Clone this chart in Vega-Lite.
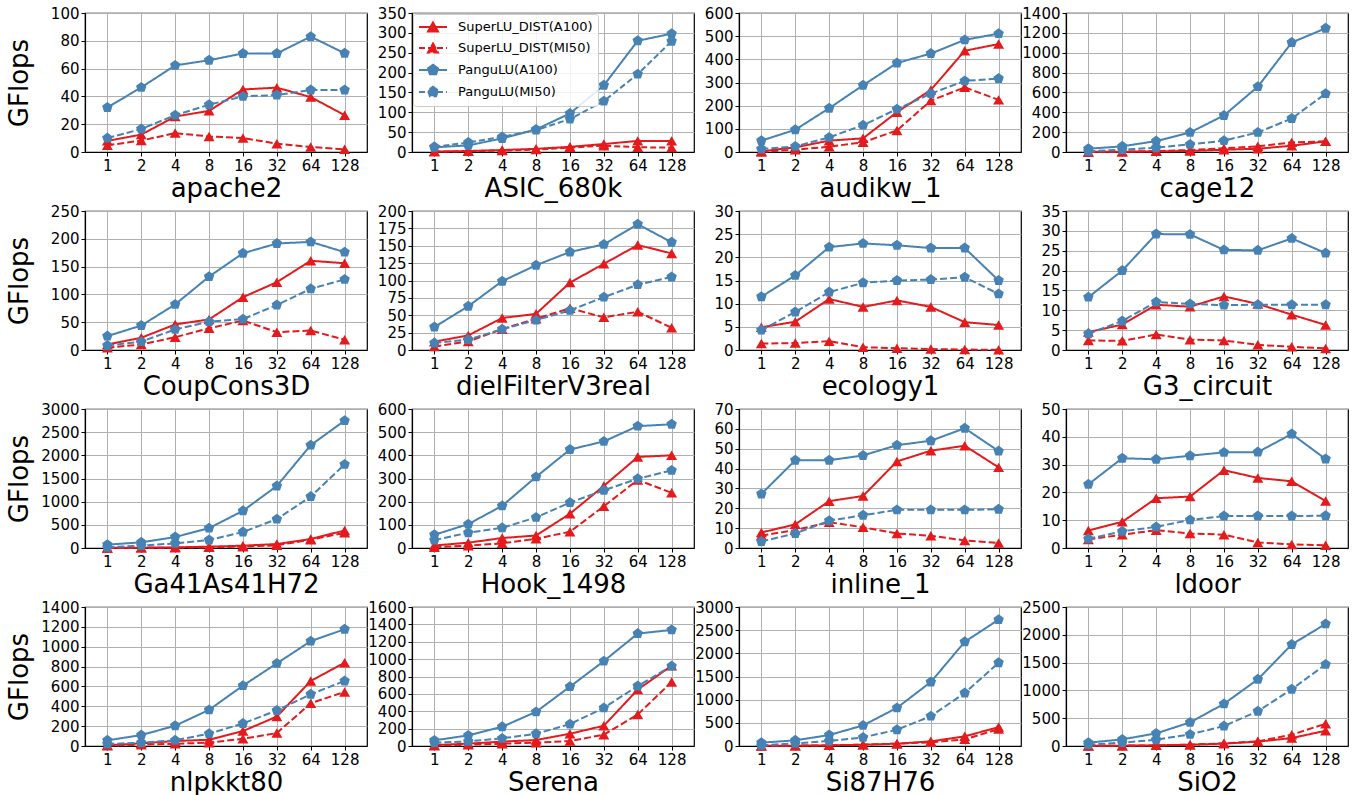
{
"$schema":"https://vega.github.io/schema/vega-lite/v6.json",
"background":"white",
"padding":{"left":5,"top":5,"right":5,"bottom":0},
"data":{"name":"d"},
"datasets":{"d":[
{"m":"apache2","s":"SuperLU_DIST(A100)","x":1,"y":8},{"m":"apache2","s":"SuperLU_DIST(A100)","x":2,"y":12.5},{"m":"apache2","s":"SuperLU_DIST(A100)","x":4,"y":25.5},{"m":"apache2","s":"SuperLU_DIST(A100)","x":8,"y":29.6},{"m":"apache2","s":"SuperLU_DIST(A100)","x":16,"y":45},{"m":"apache2","s":"SuperLU_DIST(A100)","x":32,"y":46.3},{"m":"apache2","s":"SuperLU_DIST(A100)","x":64,"y":39.5},{"m":"apache2","s":"SuperLU_DIST(A100)","x":128,"y":26.5},
{"m":"apache2","s":"SuperLU_DIST(MI50)","x":1,"y":4.8},{"m":"apache2","s":"SuperLU_DIST(MI50)","x":2,"y":8.2},{"m":"apache2","s":"SuperLU_DIST(MI50)","x":4,"y":13.6},{"m":"apache2","s":"SuperLU_DIST(MI50)","x":8,"y":11.2},{"m":"apache2","s":"SuperLU_DIST(MI50)","x":16,"y":10},{"m":"apache2","s":"SuperLU_DIST(MI50)","x":32,"y":6},{"m":"apache2","s":"SuperLU_DIST(MI50)","x":64,"y":3.6},{"m":"apache2","s":"SuperLU_DIST(MI50)","x":128,"y":1.9},
{"m":"apache2","s":"PanguLU(A100)","x":1,"y":32},{"m":"apache2","s":"PanguLU(A100)","x":2,"y":46.5},{"m":"apache2","s":"PanguLU(A100)","x":4,"y":62.3},{"m":"apache2","s":"PanguLU(A100)","x":8,"y":66},{"m":"apache2","s":"PanguLU(A100)","x":16,"y":70.9},{"m":"apache2","s":"PanguLU(A100)","x":32,"y":70.9},{"m":"apache2","s":"PanguLU(A100)","x":64,"y":83},{"m":"apache2","s":"PanguLU(A100)","x":128,"y":71},
{"m":"apache2","s":"PanguLU(MI50)","x":1,"y":10},{"m":"apache2","s":"PanguLU(MI50)","x":2,"y":16.5},{"m":"apache2","s":"PanguLU(MI50)","x":4,"y":26.5},{"m":"apache2","s":"PanguLU(MI50)","x":8,"y":34},{"m":"apache2","s":"PanguLU(MI50)","x":16,"y":40},{"m":"apache2","s":"PanguLU(MI50)","x":32,"y":41},{"m":"apache2","s":"PanguLU(MI50)","x":64,"y":44.6},{"m":"apache2","s":"PanguLU(MI50)","x":128,"y":44.6},
{"m":"ASIC_680k","s":"SuperLU_DIST(A100)","x":1,"y":1},{"m":"ASIC_680k","s":"SuperLU_DIST(A100)","x":2,"y":2.5},{"m":"ASIC_680k","s":"SuperLU_DIST(A100)","x":4,"y":5},{"m":"ASIC_680k","s":"SuperLU_DIST(A100)","x":8,"y":8},{"m":"ASIC_680k","s":"SuperLU_DIST(A100)","x":16,"y":13},{"m":"ASIC_680k","s":"SuperLU_DIST(A100)","x":32,"y":20},{"m":"ASIC_680k","s":"SuperLU_DIST(A100)","x":64,"y":28},{"m":"ASIC_680k","s":"SuperLU_DIST(A100)","x":128,"y":28},
{"m":"ASIC_680k","s":"SuperLU_DIST(MI50)","x":1,"y":1},{"m":"ASIC_680k","s":"SuperLU_DIST(MI50)","x":2,"y":2},{"m":"ASIC_680k","s":"SuperLU_DIST(MI50)","x":4,"y":3.5},{"m":"ASIC_680k","s":"SuperLU_DIST(MI50)","x":8,"y":6},{"m":"ASIC_680k","s":"SuperLU_DIST(MI50)","x":16,"y":11},{"m":"ASIC_680k","s":"SuperLU_DIST(MI50)","x":32,"y":16},{"m":"ASIC_680k","s":"SuperLU_DIST(MI50)","x":64,"y":12},{"m":"ASIC_680k","s":"SuperLU_DIST(MI50)","x":128,"y":11},
{"m":"ASIC_680k","s":"PanguLU(A100)","x":1,"y":11.7},{"m":"ASIC_680k","s":"PanguLU(A100)","x":2,"y":16.7},{"m":"ASIC_680k","s":"PanguLU(A100)","x":4,"y":34},{"m":"ASIC_680k","s":"PanguLU(A100)","x":8,"y":57},{"m":"ASIC_680k","s":"PanguLU(A100)","x":16,"y":97},{"m":"ASIC_680k","s":"PanguLU(A100)","x":32,"y":168},{"m":"ASIC_680k","s":"PanguLU(A100)","x":64,"y":280},{"m":"ASIC_680k","s":"PanguLU(A100)","x":128,"y":298},
{"m":"ASIC_680k","s":"PanguLU(MI50)","x":1,"y":13},{"m":"ASIC_680k","s":"PanguLU(MI50)","x":2,"y":24},{"m":"ASIC_680k","s":"PanguLU(MI50)","x":4,"y":38},{"m":"ASIC_680k","s":"PanguLU(MI50)","x":8,"y":55},{"m":"ASIC_680k","s":"PanguLU(MI50)","x":16,"y":83},{"m":"ASIC_680k","s":"PanguLU(MI50)","x":32,"y":128},{"m":"ASIC_680k","s":"PanguLU(MI50)","x":64,"y":196},{"m":"ASIC_680k","s":"PanguLU(MI50)","x":128,"y":279},
{"m":"audikw_1","s":"SuperLU_DIST(A100)","x":1,"y":3},{"m":"audikw_1","s":"SuperLU_DIST(A100)","x":2,"y":20},{"m":"audikw_1","s":"SuperLU_DIST(A100)","x":4,"y":49},{"m":"audikw_1","s":"SuperLU_DIST(A100)","x":8,"y":59},{"m":"audikw_1","s":"SuperLU_DIST(A100)","x":16,"y":172},{"m":"audikw_1","s":"SuperLU_DIST(A100)","x":32,"y":268},{"m":"audikw_1","s":"SuperLU_DIST(A100)","x":64,"y":437},{"m":"audikw_1","s":"SuperLU_DIST(A100)","x":128,"y":466},
{"m":"audikw_1","s":"SuperLU_DIST(MI50)","x":1,"y":0.5},{"m":"audikw_1","s":"SuperLU_DIST(MI50)","x":2,"y":10},{"m":"audikw_1","s":"SuperLU_DIST(MI50)","x":4,"y":23},{"m":"audikw_1","s":"SuperLU_DIST(MI50)","x":8,"y":42},{"m":"audikw_1","s":"SuperLU_DIST(MI50)","x":16,"y":93},{"m":"audikw_1","s":"SuperLU_DIST(MI50)","x":32,"y":222},{"m":"audikw_1","s":"SuperLU_DIST(MI50)","x":64,"y":279},{"m":"audikw_1","s":"SuperLU_DIST(MI50)","x":128,"y":225},
{"m":"audikw_1","s":"PanguLU(A100)","x":1,"y":49},{"m":"audikw_1","s":"PanguLU(A100)","x":2,"y":96},{"m":"audikw_1","s":"PanguLU(A100)","x":4,"y":189},{"m":"audikw_1","s":"PanguLU(A100)","x":8,"y":288},{"m":"audikw_1","s":"PanguLU(A100)","x":16,"y":384},{"m":"audikw_1","s":"PanguLU(A100)","x":32,"y":425},{"m":"audikw_1","s":"PanguLU(A100)","x":64,"y":484},{"m":"audikw_1","s":"PanguLU(A100)","x":128,"y":511},
{"m":"audikw_1","s":"PanguLU(MI50)","x":1,"y":13},{"m":"audikw_1","s":"PanguLU(MI50)","x":2,"y":24},{"m":"audikw_1","s":"PanguLU(MI50)","x":4,"y":63},{"m":"audikw_1","s":"PanguLU(MI50)","x":8,"y":116},{"m":"audikw_1","s":"PanguLU(MI50)","x":16,"y":185},{"m":"audikw_1","s":"PanguLU(MI50)","x":32,"y":252},{"m":"audikw_1","s":"PanguLU(MI50)","x":64,"y":307},{"m":"audikw_1","s":"PanguLU(MI50)","x":128,"y":317},
{"m":"cage12","s":"SuperLU_DIST(A100)","x":1,"y":1},{"m":"cage12","s":"SuperLU_DIST(A100)","x":2,"y":3},{"m":"cage12","s":"SuperLU_DIST(A100)","x":4,"y":7},{"m":"cage12","s":"SuperLU_DIST(A100)","x":8,"y":10},{"m":"cage12","s":"SuperLU_DIST(A100)","x":16,"y":23},{"m":"cage12","s":"SuperLU_DIST(A100)","x":32,"y":33},{"m":"cage12","s":"SuperLU_DIST(A100)","x":64,"y":63},{"m":"cage12","s":"SuperLU_DIST(A100)","x":128,"y":107},
{"m":"cage12","s":"SuperLU_DIST(MI50)","x":1,"y":1},{"m":"cage12","s":"SuperLU_DIST(MI50)","x":2,"y":3},{"m":"cage12","s":"SuperLU_DIST(MI50)","x":4,"y":10},{"m":"cage12","s":"SuperLU_DIST(MI50)","x":8,"y":20},{"m":"cage12","s":"SuperLU_DIST(MI50)","x":16,"y":37},{"m":"cage12","s":"SuperLU_DIST(MI50)","x":32,"y":57},{"m":"cage12","s":"SuperLU_DIST(MI50)","x":64,"y":97},{"m":"cage12","s":"SuperLU_DIST(MI50)","x":128,"y":107},
{"m":"cage12","s":"PanguLU(A100)","x":1,"y":33},{"m":"cage12","s":"PanguLU(A100)","x":2,"y":57},{"m":"cage12","s":"PanguLU(A100)","x":4,"y":110},{"m":"cage12","s":"PanguLU(A100)","x":8,"y":197},{"m":"cage12","s":"PanguLU(A100)","x":16,"y":368},{"m":"cage12","s":"PanguLU(A100)","x":32,"y":658},{"m":"cage12","s":"PanguLU(A100)","x":64,"y":1103},{"m":"cage12","s":"PanguLU(A100)","x":128,"y":1246},
{"m":"cage12","s":"PanguLU(MI50)","x":1,"y":7},{"m":"cage12","s":"PanguLU(MI50)","x":2,"y":23},{"m":"cage12","s":"PanguLU(MI50)","x":4,"y":43},{"m":"cage12","s":"PanguLU(MI50)","x":8,"y":77},{"m":"cage12","s":"PanguLU(MI50)","x":16,"y":114},{"m":"cage12","s":"PanguLU(MI50)","x":32,"y":197},{"m":"cage12","s":"PanguLU(MI50)","x":64,"y":337},{"m":"cage12","s":"PanguLU(MI50)","x":128,"y":588},
{"m":"CoupCons3D","s":"SuperLU_DIST(A100)","x":1,"y":10},{"m":"CoupCons3D","s":"SuperLU_DIST(A100)","x":2,"y":22},{"m":"CoupCons3D","s":"SuperLU_DIST(A100)","x":4,"y":46},{"m":"CoupCons3D","s":"SuperLU_DIST(A100)","x":8,"y":55},{"m":"CoupCons3D","s":"SuperLU_DIST(A100)","x":16,"y":95},{"m":"CoupCons3D","s":"SuperLU_DIST(A100)","x":32,"y":122},{"m":"CoupCons3D","s":"SuperLU_DIST(A100)","x":64,"y":160.5},{"m":"CoupCons3D","s":"SuperLU_DIST(A100)","x":128,"y":156},
{"m":"CoupCons3D","s":"SuperLU_DIST(MI50)","x":1,"y":4},{"m":"CoupCons3D","s":"SuperLU_DIST(MI50)","x":2,"y":10},{"m":"CoupCons3D","s":"SuperLU_DIST(MI50)","x":4,"y":23},{"m":"CoupCons3D","s":"SuperLU_DIST(MI50)","x":8,"y":39},{"m":"CoupCons3D","s":"SuperLU_DIST(MI50)","x":16,"y":53},{"m":"CoupCons3D","s":"SuperLU_DIST(MI50)","x":32,"y":32},{"m":"CoupCons3D","s":"SuperLU_DIST(MI50)","x":64,"y":35},{"m":"CoupCons3D","s":"SuperLU_DIST(MI50)","x":128,"y":18.5},
{"m":"CoupCons3D","s":"PanguLU(A100)","x":1,"y":25},{"m":"CoupCons3D","s":"PanguLU(A100)","x":2,"y":44},{"m":"CoupCons3D","s":"PanguLU(A100)","x":4,"y":82},{"m":"CoupCons3D","s":"PanguLU(A100)","x":8,"y":132},{"m":"CoupCons3D","s":"PanguLU(A100)","x":16,"y":174},{"m":"CoupCons3D","s":"PanguLU(A100)","x":32,"y":191.5},{"m":"CoupCons3D","s":"PanguLU(A100)","x":64,"y":194.5},{"m":"CoupCons3D","s":"PanguLU(A100)","x":128,"y":176},
{"m":"CoupCons3D","s":"PanguLU(MI50)","x":1,"y":8},{"m":"CoupCons3D","s":"PanguLU(MI50)","x":2,"y":15},{"m":"CoupCons3D","s":"PanguLU(MI50)","x":4,"y":37},{"m":"CoupCons3D","s":"PanguLU(MI50)","x":8,"y":51},{"m":"CoupCons3D","s":"PanguLU(MI50)","x":16,"y":55.5},{"m":"CoupCons3D","s":"PanguLU(MI50)","x":32,"y":81},{"m":"CoupCons3D","s":"PanguLU(MI50)","x":64,"y":110},{"m":"CoupCons3D","s":"PanguLU(MI50)","x":128,"y":127},
{"m":"dielFilterV3real","s":"SuperLU_DIST(A100)","x":1,"y":12},{"m":"dielFilterV3real","s":"SuperLU_DIST(A100)","x":2,"y":21},{"m":"dielFilterV3real","s":"SuperLU_DIST(A100)","x":4,"y":46},{"m":"dielFilterV3real","s":"SuperLU_DIST(A100)","x":8,"y":52},{"m":"dielFilterV3real","s":"SuperLU_DIST(A100)","x":16,"y":97},{"m":"dielFilterV3real","s":"SuperLU_DIST(A100)","x":32,"y":124},{"m":"dielFilterV3real","s":"SuperLU_DIST(A100)","x":64,"y":151},{"m":"dielFilterV3real","s":"SuperLU_DIST(A100)","x":128,"y":139},
{"m":"dielFilterV3real","s":"SuperLU_DIST(MI50)","x":1,"y":5},{"m":"dielFilterV3real","s":"SuperLU_DIST(MI50)","x":2,"y":12.4},{"m":"dielFilterV3real","s":"SuperLU_DIST(MI50)","x":4,"y":30},{"m":"dielFilterV3real","s":"SuperLU_DIST(MI50)","x":8,"y":45},{"m":"dielFilterV3real","s":"SuperLU_DIST(MI50)","x":16,"y":60},{"m":"dielFilterV3real","s":"SuperLU_DIST(MI50)","x":32,"y":47},{"m":"dielFilterV3real","s":"SuperLU_DIST(MI50)","x":64,"y":55},{"m":"dielFilterV3real","s":"SuperLU_DIST(MI50)","x":128,"y":32},
{"m":"dielFilterV3real","s":"PanguLU(A100)","x":1,"y":33},{"m":"dielFilterV3real","s":"PanguLU(A100)","x":2,"y":63},{"m":"dielFilterV3real","s":"PanguLU(A100)","x":4,"y":99},{"m":"dielFilterV3real","s":"PanguLU(A100)","x":8,"y":122},{"m":"dielFilterV3real","s":"PanguLU(A100)","x":16,"y":141},{"m":"dielFilterV3real","s":"PanguLU(A100)","x":32,"y":152},{"m":"dielFilterV3real","s":"PanguLU(A100)","x":64,"y":181},{"m":"dielFilterV3real","s":"PanguLU(A100)","x":128,"y":155},
{"m":"dielFilterV3real","s":"PanguLU(MI50)","x":1,"y":10},{"m":"dielFilterV3real","s":"PanguLU(MI50)","x":2,"y":15},{"m":"dielFilterV3real","s":"PanguLU(MI50)","x":4,"y":30},{"m":"dielFilterV3real","s":"PanguLU(MI50)","x":8,"y":43},{"m":"dielFilterV3real","s":"PanguLU(MI50)","x":16,"y":57},{"m":"dielFilterV3real","s":"PanguLU(MI50)","x":32,"y":76},{"m":"dielFilterV3real","s":"PanguLU(MI50)","x":64,"y":94},{"m":"dielFilterV3real","s":"PanguLU(MI50)","x":128,"y":105},
{"m":"ecology1","s":"SuperLU_DIST(A100)","x":1,"y":4.9},{"m":"ecology1","s":"SuperLU_DIST(A100)","x":2,"y":6.1},{"m":"ecology1","s":"SuperLU_DIST(A100)","x":4,"y":11},{"m":"ecology1","s":"SuperLU_DIST(A100)","x":8,"y":9.3},{"m":"ecology1","s":"SuperLU_DIST(A100)","x":16,"y":10.7},{"m":"ecology1","s":"SuperLU_DIST(A100)","x":32,"y":9.3},{"m":"ecology1","s":"SuperLU_DIST(A100)","x":64,"y":6},{"m":"ecology1","s":"SuperLU_DIST(A100)","x":128,"y":5.4},
{"m":"ecology1","s":"SuperLU_DIST(MI50)","x":1,"y":1.4},{"m":"ecology1","s":"SuperLU_DIST(MI50)","x":2,"y":1.5},{"m":"ecology1","s":"SuperLU_DIST(MI50)","x":4,"y":1.9},{"m":"ecology1","s":"SuperLU_DIST(MI50)","x":8,"y":0.6},{"m":"ecology1","s":"SuperLU_DIST(MI50)","x":16,"y":0.4},{"m":"ecology1","s":"SuperLU_DIST(MI50)","x":32,"y":0.2},{"m":"ecology1","s":"SuperLU_DIST(MI50)","x":64,"y":0.1},{"m":"ecology1","s":"SuperLU_DIST(MI50)","x":128,"y":0.05},
{"m":"ecology1","s":"PanguLU(A100)","x":1,"y":11.5},{"m":"ecology1","s":"PanguLU(A100)","x":2,"y":16.1},{"m":"ecology1","s":"PanguLU(A100)","x":4,"y":22.2},{"m":"ecology1","s":"PanguLU(A100)","x":8,"y":23},{"m":"ecology1","s":"PanguLU(A100)","x":16,"y":22.6},{"m":"ecology1","s":"PanguLU(A100)","x":32,"y":22},{"m":"ecology1","s":"PanguLU(A100)","x":64,"y":22},{"m":"ecology1","s":"PanguLU(A100)","x":128,"y":15},
{"m":"ecology1","s":"PanguLU(MI50)","x":1,"y":4.3},{"m":"ecology1","s":"PanguLU(MI50)","x":2,"y":8.2},{"m":"ecology1","s":"PanguLU(MI50)","x":4,"y":12.5},{"m":"ecology1","s":"PanguLU(MI50)","x":8,"y":14.5},{"m":"ecology1","s":"PanguLU(MI50)","x":16,"y":15},{"m":"ecology1","s":"PanguLU(MI50)","x":32,"y":15.2},{"m":"ecology1","s":"PanguLU(MI50)","x":64,"y":15.7},{"m":"ecology1","s":"PanguLU(MI50)","x":128,"y":12.1},
{"m":"G3_circuit","s":"SuperLU_DIST(A100)","x":1,"y":4.5},{"m":"G3_circuit","s":"SuperLU_DIST(A100)","x":2,"y":6.4},{"m":"G3_circuit","s":"SuperLU_DIST(A100)","x":4,"y":11.4},{"m":"G3_circuit","s":"SuperLU_DIST(A100)","x":8,"y":10.9},{"m":"G3_circuit","s":"SuperLU_DIST(A100)","x":16,"y":13.5},{"m":"G3_circuit","s":"SuperLU_DIST(A100)","x":32,"y":11.6},{"m":"G3_circuit","s":"SuperLU_DIST(A100)","x":64,"y":8.9},{"m":"G3_circuit","s":"SuperLU_DIST(A100)","x":128,"y":6.3},
{"m":"G3_circuit","s":"SuperLU_DIST(MI50)","x":1,"y":2.4},{"m":"G3_circuit","s":"SuperLU_DIST(MI50)","x":2,"y":2.3},{"m":"G3_circuit","s":"SuperLU_DIST(MI50)","x":4,"y":3.9},{"m":"G3_circuit","s":"SuperLU_DIST(MI50)","x":8,"y":2.6},{"m":"G3_circuit","s":"SuperLU_DIST(MI50)","x":16,"y":2.4},{"m":"G3_circuit","s":"SuperLU_DIST(MI50)","x":32,"y":1.3},{"m":"G3_circuit","s":"SuperLU_DIST(MI50)","x":64,"y":0.8},{"m":"G3_circuit","s":"SuperLU_DIST(MI50)","x":128,"y":0.4},
{"m":"G3_circuit","s":"PanguLU(A100)","x":1,"y":13.3},{"m":"G3_circuit","s":"PanguLU(A100)","x":2,"y":20},{"m":"G3_circuit","s":"PanguLU(A100)","x":4,"y":29.2},{"m":"G3_circuit","s":"PanguLU(A100)","x":8,"y":29.1},{"m":"G3_circuit","s":"PanguLU(A100)","x":16,"y":25.2},{"m":"G3_circuit","s":"PanguLU(A100)","x":32,"y":25.1},{"m":"G3_circuit","s":"PanguLU(A100)","x":64,"y":28.1},{"m":"G3_circuit","s":"PanguLU(A100)","x":128,"y":24.4},
{"m":"G3_circuit","s":"PanguLU(MI50)","x":1,"y":4.1},{"m":"G3_circuit","s":"PanguLU(MI50)","x":2,"y":7.3},{"m":"G3_circuit","s":"PanguLU(MI50)","x":4,"y":12.1},{"m":"G3_circuit","s":"PanguLU(MI50)","x":8,"y":11.6},{"m":"G3_circuit","s":"PanguLU(MI50)","x":16,"y":11.3},{"m":"G3_circuit","s":"PanguLU(MI50)","x":32,"y":11.4},{"m":"G3_circuit","s":"PanguLU(MI50)","x":64,"y":11.4},{"m":"G3_circuit","s":"PanguLU(MI50)","x":128,"y":11.4},
{"m":"Ga41As41H72","s":"SuperLU_DIST(A100)","x":1,"y":2},{"m":"Ga41As41H72","s":"SuperLU_DIST(A100)","x":2,"y":7},{"m":"Ga41As41H72","s":"SuperLU_DIST(A100)","x":4,"y":14},{"m":"Ga41As41H72","s":"SuperLU_DIST(A100)","x":8,"y":29},{"m":"Ga41As41H72","s":"SuperLU_DIST(A100)","x":16,"y":50},{"m":"Ga41As41H72","s":"SuperLU_DIST(A100)","x":32,"y":86},{"m":"Ga41As41H72","s":"SuperLU_DIST(A100)","x":64,"y":193},{"m":"Ga41As41H72","s":"SuperLU_DIST(A100)","x":128,"y":379},
{"m":"Ga41As41H72","s":"SuperLU_DIST(MI50)","x":1,"y":1},{"m":"Ga41As41H72","s":"SuperLU_DIST(MI50)","x":2,"y":3},{"m":"Ga41As41H72","s":"SuperLU_DIST(MI50)","x":4,"y":7},{"m":"Ga41As41H72","s":"SuperLU_DIST(MI50)","x":8,"y":14},{"m":"Ga41As41H72","s":"SuperLU_DIST(MI50)","x":16,"y":29},{"m":"Ga41As41H72","s":"SuperLU_DIST(MI50)","x":32,"y":57},{"m":"Ga41As41H72","s":"SuperLU_DIST(MI50)","x":64,"y":179},{"m":"Ga41As41H72","s":"SuperLU_DIST(MI50)","x":128,"y":329},
{"m":"Ga41As41H72","s":"PanguLU(A100)","x":1,"y":72},{"m":"Ga41As41H72","s":"PanguLU(A100)","x":2,"y":122},{"m":"Ga41As41H72","s":"PanguLU(A100)","x":4,"y":236},{"m":"Ga41As41H72","s":"PanguLU(A100)","x":8,"y":429},{"m":"Ga41As41H72","s":"PanguLU(A100)","x":16,"y":802},{"m":"Ga41As41H72","s":"PanguLU(A100)","x":32,"y":1339},{"m":"Ga41As41H72","s":"PanguLU(A100)","x":64,"y":2219},{"m":"Ga41As41H72","s":"PanguLU(A100)","x":128,"y":2749},
{"m":"Ga41As41H72","s":"PanguLU(MI50)","x":1,"y":14},{"m":"Ga41As41H72","s":"PanguLU(MI50)","x":2,"y":50},{"m":"Ga41As41H72","s":"PanguLU(MI50)","x":4,"y":100},{"m":"Ga41As41H72","s":"PanguLU(MI50)","x":8,"y":172},{"m":"Ga41As41H72","s":"PanguLU(MI50)","x":16,"y":344},{"m":"Ga41As41H72","s":"PanguLU(MI50)","x":32,"y":623},{"m":"Ga41As41H72","s":"PanguLU(MI50)","x":64,"y":1110},{"m":"Ga41As41H72","s":"PanguLU(MI50)","x":128,"y":1804},
{"m":"Hook_1498","s":"SuperLU_DIST(A100)","x":1,"y":11},{"m":"Hook_1498","s":"SuperLU_DIST(A100)","x":2,"y":23},{"m":"Hook_1498","s":"SuperLU_DIST(A100)","x":4,"y":43},{"m":"Hook_1498","s":"SuperLU_DIST(A100)","x":8,"y":54},{"m":"Hook_1498","s":"SuperLU_DIST(A100)","x":16,"y":148},{"m":"Hook_1498","s":"SuperLU_DIST(A100)","x":32,"y":268},{"m":"Hook_1498","s":"SuperLU_DIST(A100)","x":64,"y":393},{"m":"Hook_1498","s":"SuperLU_DIST(A100)","x":128,"y":400},
{"m":"Hook_1498","s":"SuperLU_DIST(MI50)","x":1,"y":3},{"m":"Hook_1498","s":"SuperLU_DIST(MI50)","x":2,"y":10},{"m":"Hook_1498","s":"SuperLU_DIST(MI50)","x":4,"y":20},{"m":"Hook_1498","s":"SuperLU_DIST(MI50)","x":8,"y":40},{"m":"Hook_1498","s":"SuperLU_DIST(MI50)","x":16,"y":70},{"m":"Hook_1498","s":"SuperLU_DIST(MI50)","x":32,"y":180},{"m":"Hook_1498","s":"SuperLU_DIST(MI50)","x":64,"y":294},{"m":"Hook_1498","s":"SuperLU_DIST(MI50)","x":128,"y":238},
{"m":"Hook_1498","s":"PanguLU(A100)","x":1,"y":57},{"m":"Hook_1498","s":"PanguLU(A100)","x":2,"y":103},{"m":"Hook_1498","s":"PanguLU(A100)","x":4,"y":182},{"m":"Hook_1498","s":"PanguLU(A100)","x":8,"y":307},{"m":"Hook_1498","s":"PanguLU(A100)","x":16,"y":425},{"m":"Hook_1498","s":"PanguLU(A100)","x":32,"y":460},{"m":"Hook_1498","s":"PanguLU(A100)","x":64,"y":526},{"m":"Hook_1498","s":"PanguLU(A100)","x":128,"y":534},
{"m":"Hook_1498","s":"PanguLU(MI50)","x":1,"y":34},{"m":"Hook_1498","s":"PanguLU(MI50)","x":2,"y":66},{"m":"Hook_1498","s":"PanguLU(MI50)","x":4,"y":87},{"m":"Hook_1498","s":"PanguLU(MI50)","x":8,"y":132},{"m":"Hook_1498","s":"PanguLU(MI50)","x":16,"y":196},{"m":"Hook_1498","s":"PanguLU(MI50)","x":32,"y":249},{"m":"Hook_1498","s":"PanguLU(MI50)","x":64,"y":299},{"m":"Hook_1498","s":"PanguLU(MI50)","x":128,"y":335},
{"m":"inline_1","s":"SuperLU_DIST(A100)","x":1,"y":7.8},{"m":"inline_1","s":"SuperLU_DIST(A100)","x":2,"y":11.9},{"m":"inline_1","s":"SuperLU_DIST(A100)","x":4,"y":23.6},{"m":"inline_1","s":"SuperLU_DIST(A100)","x":8,"y":26.2},{"m":"inline_1","s":"SuperLU_DIST(A100)","x":16,"y":43.6},{"m":"inline_1","s":"SuperLU_DIST(A100)","x":32,"y":49},{"m":"inline_1","s":"SuperLU_DIST(A100)","x":64,"y":51.5},{"m":"inline_1","s":"SuperLU_DIST(A100)","x":128,"y":40.6},
{"m":"inline_1","s":"SuperLU_DIST(MI50)","x":1,"y":6.3},{"m":"inline_1","s":"SuperLU_DIST(MI50)","x":2,"y":9},{"m":"inline_1","s":"SuperLU_DIST(MI50)","x":4,"y":13},{"m":"inline_1","s":"SuperLU_DIST(MI50)","x":8,"y":10.4},{"m":"inline_1","s":"SuperLU_DIST(MI50)","x":16,"y":7.3},{"m":"inline_1","s":"SuperLU_DIST(MI50)","x":32,"y":6.2},{"m":"inline_1","s":"SuperLU_DIST(MI50)","x":64,"y":3.8},{"m":"inline_1","s":"SuperLU_DIST(MI50)","x":128,"y":2.5},
{"m":"inline_1","s":"PanguLU(A100)","x":1,"y":27.2},{"m":"inline_1","s":"PanguLU(A100)","x":2,"y":44.2},{"m":"inline_1","s":"PanguLU(A100)","x":4,"y":44.2},{"m":"inline_1","s":"PanguLU(A100)","x":8,"y":46.6},{"m":"inline_1","s":"PanguLU(A100)","x":16,"y":51.8},{"m":"inline_1","s":"PanguLU(A100)","x":32,"y":54},{"m":"inline_1","s":"PanguLU(A100)","x":64,"y":60.3},{"m":"inline_1","s":"PanguLU(A100)","x":128,"y":48.8},
{"m":"inline_1","s":"PanguLU(MI50)","x":1,"y":3.3},{"m":"inline_1","s":"PanguLU(MI50)","x":2,"y":7.3},{"m":"inline_1","s":"PanguLU(MI50)","x":4,"y":13.7},{"m":"inline_1","s":"PanguLU(MI50)","x":8,"y":16.5},{"m":"inline_1","s":"PanguLU(MI50)","x":16,"y":19.2},{"m":"inline_1","s":"PanguLU(MI50)","x":32,"y":19.2},{"m":"inline_1","s":"PanguLU(MI50)","x":64,"y":19.2},{"m":"inline_1","s":"PanguLU(MI50)","x":128,"y":19.5},
{"m":"ldoor","s":"SuperLU_DIST(A100)","x":1,"y":6.3},{"m":"ldoor","s":"SuperLU_DIST(A100)","x":2,"y":9.4},{"m":"ldoor","s":"SuperLU_DIST(A100)","x":4,"y":17.9},{"m":"ldoor","s":"SuperLU_DIST(A100)","x":8,"y":18.5},{"m":"ldoor","s":"SuperLU_DIST(A100)","x":16,"y":28},{"m":"ldoor","s":"SuperLU_DIST(A100)","x":32,"y":25.2},{"m":"ldoor","s":"SuperLU_DIST(A100)","x":64,"y":24},{"m":"ldoor","s":"SuperLU_DIST(A100)","x":128,"y":16.9},
{"m":"ldoor","s":"SuperLU_DIST(MI50)","x":1,"y":3.1},{"m":"ldoor","s":"SuperLU_DIST(MI50)","x":2,"y":4.8},{"m":"ldoor","s":"SuperLU_DIST(MI50)","x":4,"y":6.4},{"m":"ldoor","s":"SuperLU_DIST(MI50)","x":8,"y":5.2},{"m":"ldoor","s":"SuperLU_DIST(MI50)","x":16,"y":4.8},{"m":"ldoor","s":"SuperLU_DIST(MI50)","x":32,"y":2},{"m":"ldoor","s":"SuperLU_DIST(MI50)","x":64,"y":1.3},{"m":"ldoor","s":"SuperLU_DIST(MI50)","x":128,"y":1},
{"m":"ldoor","s":"PanguLU(A100)","x":1,"y":22.9},{"m":"ldoor","s":"PanguLU(A100)","x":2,"y":32.3},{"m":"ldoor","s":"PanguLU(A100)","x":4,"y":31.9},{"m":"ldoor","s":"PanguLU(A100)","x":8,"y":33.2},{"m":"ldoor","s":"PanguLU(A100)","x":16,"y":34.4},{"m":"ldoor","s":"PanguLU(A100)","x":32,"y":34.5},{"m":"ldoor","s":"PanguLU(A100)","x":64,"y":41},{"m":"ldoor","s":"PanguLU(A100)","x":128,"y":32},
{"m":"ldoor","s":"PanguLU(MI50)","x":1,"y":3.3},{"m":"ldoor","s":"PanguLU(MI50)","x":2,"y":6},{"m":"ldoor","s":"PanguLU(MI50)","x":4,"y":7.6},{"m":"ldoor","s":"PanguLU(MI50)","x":8,"y":10.1},{"m":"ldoor","s":"PanguLU(MI50)","x":16,"y":11.5},{"m":"ldoor","s":"PanguLU(MI50)","x":32,"y":11.5},{"m":"ldoor","s":"PanguLU(MI50)","x":64,"y":11.5},{"m":"ldoor","s":"PanguLU(MI50)","x":128,"y":11.6},
{"m":"nlpkkt80","s":"SuperLU_DIST(A100)","x":1,"y":7},{"m":"nlpkkt80","s":"SuperLU_DIST(A100)","x":2,"y":27},{"m":"nlpkkt80","s":"SuperLU_DIST(A100)","x":4,"y":50},{"m":"nlpkkt80","s":"SuperLU_DIST(A100)","x":8,"y":63},{"m":"nlpkkt80","s":"SuperLU_DIST(A100)","x":16,"y":150},{"m":"nlpkkt80","s":"SuperLU_DIST(A100)","x":32,"y":297},{"m":"nlpkkt80","s":"SuperLU_DIST(A100)","x":64,"y":655},{"m":"nlpkkt80","s":"SuperLU_DIST(A100)","x":128,"y":839},
{"m":"nlpkkt80","s":"SuperLU_DIST(MI50)","x":1,"y":3},{"m":"nlpkkt80","s":"SuperLU_DIST(MI50)","x":2,"y":13},{"m":"nlpkkt80","s":"SuperLU_DIST(MI50)","x":4,"y":23},{"m":"nlpkkt80","s":"SuperLU_DIST(MI50)","x":8,"y":33},{"m":"nlpkkt80","s":"SuperLU_DIST(MI50)","x":16,"y":73},{"m":"nlpkkt80","s":"SuperLU_DIST(MI50)","x":32,"y":130},{"m":"nlpkkt80","s":"SuperLU_DIST(MI50)","x":64,"y":431},{"m":"nlpkkt80","s":"SuperLU_DIST(MI50)","x":128,"y":545},
{"m":"nlpkkt80","s":"PanguLU(A100)","x":1,"y":57},{"m":"nlpkkt80","s":"PanguLU(A100)","x":2,"y":110},{"m":"nlpkkt80","s":"PanguLU(A100)","x":4,"y":204},{"m":"nlpkkt80","s":"PanguLU(A100)","x":8,"y":364},{"m":"nlpkkt80","s":"PanguLU(A100)","x":16,"y":608},{"m":"nlpkkt80","s":"PanguLU(A100)","x":32,"y":832},{"m":"nlpkkt80","s":"PanguLU(A100)","x":64,"y":1056},{"m":"nlpkkt80","s":"PanguLU(A100)","x":128,"y":1176},
{"m":"nlpkkt80","s":"PanguLU(MI50)","x":1,"y":20},{"m":"nlpkkt80","s":"PanguLU(MI50)","x":2,"y":33},{"m":"nlpkkt80","s":"PanguLU(MI50)","x":4,"y":57},{"m":"nlpkkt80","s":"PanguLU(MI50)","x":8,"y":124},{"m":"nlpkkt80","s":"PanguLU(MI50)","x":16,"y":227},{"m":"nlpkkt80","s":"PanguLU(MI50)","x":32,"y":358},{"m":"nlpkkt80","s":"PanguLU(MI50)","x":64,"y":521},{"m":"nlpkkt80","s":"PanguLU(MI50)","x":128,"y":655},
{"m":"Serena","s":"SuperLU_DIST(A100)","x":1,"y":11},{"m":"Serena","s":"SuperLU_DIST(A100)","x":2,"y":27},{"m":"Serena","s":"SuperLU_DIST(A100)","x":4,"y":50},{"m":"Serena","s":"SuperLU_DIST(A100)","x":8,"y":69},{"m":"Serena","s":"SuperLU_DIST(A100)","x":16,"y":141},{"m":"Serena","s":"SuperLU_DIST(A100)","x":32,"y":233},{"m":"Serena","s":"SuperLU_DIST(A100)","x":64,"y":649},{"m":"Serena","s":"SuperLU_DIST(A100)","x":128,"y":924},
{"m":"Serena","s":"SuperLU_DIST(MI50)","x":1,"y":4},{"m":"Serena","s":"SuperLU_DIST(MI50)","x":2,"y":15},{"m":"Serena","s":"SuperLU_DIST(MI50)","x":4,"y":27},{"m":"Serena","s":"SuperLU_DIST(MI50)","x":8,"y":38},{"m":"Serena","s":"SuperLU_DIST(MI50)","x":16,"y":57},{"m":"Serena","s":"SuperLU_DIST(MI50)","x":32,"y":130},{"m":"Serena","s":"SuperLU_DIST(MI50)","x":64,"y":363},{"m":"Serena","s":"SuperLU_DIST(MI50)","x":128,"y":737},
{"m":"Serena","s":"PanguLU(A100)","x":1,"y":65},{"m":"Serena","s":"PanguLU(A100)","x":2,"y":122},{"m":"Serena","s":"PanguLU(A100)","x":4,"y":221},{"m":"Serena","s":"PanguLU(A100)","x":8,"y":393},{"m":"Serena","s":"PanguLU(A100)","x":16,"y":683},{"m":"Serena","s":"PanguLU(A100)","x":32,"y":977},{"m":"Serena","s":"PanguLU(A100)","x":64,"y":1294},{"m":"Serena","s":"PanguLU(A100)","x":128,"y":1336},
{"m":"Serena","s":"PanguLU(MI50)","x":1,"y":38},{"m":"Serena","s":"PanguLU(MI50)","x":2,"y":53},{"m":"Serena","s":"PanguLU(MI50)","x":4,"y":88},{"m":"Serena","s":"PanguLU(MI50)","x":8,"y":141},{"m":"Serena","s":"PanguLU(MI50)","x":16,"y":252},{"m":"Serena","s":"PanguLU(MI50)","x":32,"y":439},{"m":"Serena","s":"PanguLU(MI50)","x":64,"y":691},{"m":"Serena","s":"PanguLU(MI50)","x":128,"y":920},
{"m":"Si87H76","s":"SuperLU_DIST(A100)","x":1,"y":2},{"m":"Si87H76","s":"SuperLU_DIST(A100)","x":2,"y":7},{"m":"Si87H76","s":"SuperLU_DIST(A100)","x":4,"y":14},{"m":"Si87H76","s":"SuperLU_DIST(A100)","x":8,"y":29},{"m":"Si87H76","s":"SuperLU_DIST(A100)","x":16,"y":50},{"m":"Si87H76","s":"SuperLU_DIST(A100)","x":32,"y":100},{"m":"Si87H76","s":"SuperLU_DIST(A100)","x":64,"y":208},{"m":"Si87H76","s":"SuperLU_DIST(A100)","x":128,"y":408},
{"m":"Si87H76","s":"SuperLU_DIST(MI50)","x":1,"y":3},{"m":"Si87H76","s":"SuperLU_DIST(MI50)","x":2,"y":7},{"m":"Si87H76","s":"SuperLU_DIST(MI50)","x":4,"y":14},{"m":"Si87H76","s":"SuperLU_DIST(MI50)","x":8,"y":29},{"m":"Si87H76","s":"SuperLU_DIST(MI50)","x":16,"y":50},{"m":"Si87H76","s":"SuperLU_DIST(MI50)","x":32,"y":79},{"m":"Si87H76","s":"SuperLU_DIST(MI50)","x":64,"y":143},{"m":"Si87H76","s":"SuperLU_DIST(MI50)","x":128,"y":365},
{"m":"Si87H76","s":"PanguLU(A100)","x":1,"y":72},{"m":"Si87H76","s":"PanguLU(A100)","x":2,"y":122},{"m":"Si87H76","s":"PanguLU(A100)","x":4,"y":236},{"m":"Si87H76","s":"PanguLU(A100)","x":8,"y":444},{"m":"Si87H76","s":"PanguLU(A100)","x":16,"y":823},{"m":"Si87H76","s":"PanguLU(A100)","x":32,"y":1382},{"m":"Si87H76","s":"PanguLU(A100)","x":64,"y":2248},{"m":"Si87H76","s":"PanguLU(A100)","x":128,"y":2727},
{"m":"Si87H76","s":"PanguLU(MI50)","x":1,"y":14},{"m":"Si87H76","s":"PanguLU(MI50)","x":2,"y":57},{"m":"Si87H76","s":"PanguLU(MI50)","x":4,"y":107},{"m":"Si87H76","s":"PanguLU(MI50)","x":8,"y":186},{"m":"Si87H76","s":"PanguLU(MI50)","x":16,"y":351},{"m":"Si87H76","s":"PanguLU(MI50)","x":32,"y":644},{"m":"Si87H76","s":"PanguLU(MI50)","x":64,"y":1145},{"m":"Si87H76","s":"PanguLU(MI50)","x":128,"y":1797},
{"m":"SiO2","s":"SuperLU_DIST(A100)","x":1,"y":2},{"m":"SiO2","s":"SuperLU_DIST(A100)","x":2,"y":6},{"m":"SiO2","s":"SuperLU_DIST(A100)","x":4,"y":12},{"m":"SiO2","s":"SuperLU_DIST(A100)","x":8,"y":24},{"m":"SiO2","s":"SuperLU_DIST(A100)","x":16,"y":42},{"m":"SiO2","s":"SuperLU_DIST(A100)","x":32,"y":78},{"m":"SiO2","s":"SuperLU_DIST(A100)","x":64,"y":143},{"m":"SiO2","s":"SuperLU_DIST(A100)","x":128,"y":274},
{"m":"SiO2","s":"SuperLU_DIST(MI50)","x":1,"y":3},{"m":"SiO2","s":"SuperLU_DIST(MI50)","x":2,"y":6},{"m":"SiO2","s":"SuperLU_DIST(MI50)","x":4,"y":12},{"m":"SiO2","s":"SuperLU_DIST(MI50)","x":8,"y":24},{"m":"SiO2","s":"SuperLU_DIST(MI50)","x":16,"y":48},{"m":"SiO2","s":"SuperLU_DIST(MI50)","x":32,"y":84},{"m":"SiO2","s":"SuperLU_DIST(MI50)","x":64,"y":203},{"m":"SiO2","s":"SuperLU_DIST(MI50)","x":128,"y":400},
{"m":"SiO2","s":"PanguLU(A100)","x":1,"y":60},{"m":"SiO2","s":"PanguLU(A100)","x":2,"y":119},{"m":"SiO2","s":"PanguLU(A100)","x":4,"y":227},{"m":"SiO2","s":"PanguLU(A100)","x":8,"y":424},{"m":"SiO2","s":"PanguLU(A100)","x":16,"y":758},{"m":"SiO2","s":"PanguLU(A100)","x":32,"y":1199},{"m":"SiO2","s":"PanguLU(A100)","x":64,"y":1826},{"m":"SiO2","s":"PanguLU(A100)","x":128,"y":2196},
{"m":"SiO2","s":"PanguLU(MI50)","x":1,"y":24},{"m":"SiO2","s":"PanguLU(MI50)","x":2,"y":60},{"m":"SiO2","s":"PanguLU(MI50)","x":4,"y":113},{"m":"SiO2","s":"PanguLU(MI50)","x":8,"y":209},{"m":"SiO2","s":"PanguLU(MI50)","x":16,"y":358},{"m":"SiO2","s":"PanguLU(MI50)","x":32,"y":626},{"m":"SiO2","s":"PanguLU(MI50)","x":64,"y":1020},{"m":"SiO2","s":"PanguLU(MI50)","x":128,"y":1468}
]},
"columns":4,
"spacing":{"row":59,"column":45},
"bounds":"flush",
"resolve":{"scale":{"x":"independent","y":"independent","fill":"independent","stroke":"independent","shape":"independent","strokeDash":"independent"},"legend":{"fill":"independent","stroke":"independent","shape":"independent","strokeDash":"independent"}},
"concat":[
{"transform":[{"filter":{"field":"m","equal":"apache2"}}],"width":282,"height":139,
 "encoding":{"x":{"field":"x","type":"ordinal","scale":{"padding":0.66},"axis":{"title":"apache2"}},
  "y":{"field":"y","type":"quantitative","scale":{"domain":[0,100],"nice":false},"axis":{"values":[0,20,40,60,80,100],"format":"d","title":"GFlops"}}},
 "layer":[
  {"mark":{"type":"line","strokeWidth":2},"encoding":{"stroke":{"field":"s","type":"nominal","scale":{"domain":["SuperLU_DIST(A100)","SuperLU_DIST(MI50)","PanguLU(A100)","PanguLU(MI50)"],"range":["#e41a1c","#e41a1c","#4682b4","#4682b4"]},"legend":null},"strokeDash":{"field":"s","type":"nominal","scale":{"domain":["SuperLU_DIST(A100)","SuperLU_DIST(MI50)","PanguLU(A100)","PanguLU(MI50)"],"range":[[1,0],[7,3],[1,0],[7,3]]},"legend":null}}},
  {"transform":[{"filter":{"field":"s","oneOf":["SuperLU_DIST(A100)","SuperLU_DIST(MI50)"]}}],"mark":{"type":"point","filled":true,"size":120,"opacity":1,"shape":"triangle-up"},"encoding":{"fill":{"field":"s","type":"nominal","scale":{"domain":["SuperLU_DIST(A100)","SuperLU_DIST(MI50)","PanguLU(A100)","PanguLU(MI50)"],"range":["#e41a1c","#e41a1c","#4682b4","#4682b4"]},"legend":null}}},
  {"transform":[{"filter":{"field":"s","oneOf":["PanguLU(A100)","PanguLU(MI50)"]}}],"mark":{"type":"point","filled":true,"size":120,"opacity":1,"shape":"M0,-1L0.951,-0.309L0.588,0.809L-0.588,0.809L-0.951,-0.309Z"},"encoding":{"fill":{"field":"s","type":"nominal","scale":{"domain":["SuperLU_DIST(A100)","SuperLU_DIST(MI50)","PanguLU(A100)","PanguLU(MI50)"],"range":["#e41a1c","#e41a1c","#4682b4","#4682b4"]},"legend":null}}}
 ]},
{"transform":[{"filter":{"field":"m","equal":"ASIC_680k"}}],"width":282,"height":139,
 "encoding":{"x":{"field":"x","type":"ordinal","scale":{"padding":0.66},"axis":{"title":"ASIC_680k"}},
  "y":{"field":"y","type":"quantitative","scale":{"domain":[0,350],"nice":false},"axis":{"values":[0,50,100,150,200,250,300,350],"format":"d","title":null}}},
 "layer":[
  {"mark":{"type":"line","strokeWidth":2},"encoding":{"stroke":{"field":"s","type":"nominal","scale":{"domain":["SuperLU_DIST(A100)","SuperLU_DIST(MI50)","PanguLU(A100)","PanguLU(MI50)"],"range":["#e41a1c","#e41a1c","#4682b4","#4682b4"]},"legend":{"title":null}},"strokeDash":{"field":"s","type":"nominal","scale":{"domain":["SuperLU_DIST(A100)","SuperLU_DIST(MI50)","PanguLU(A100)","PanguLU(MI50)"],"range":[[1,0],[6,3],[1,0],[6,3]]},"legend":{"title":null}}}},
  {"transform":[{"filter":{"field":"s","oneOf":["SuperLU_DIST(A100)","SuperLU_DIST(MI50)"]}}],"mark":{"type":"point","filled":true,"size":120,"opacity":1,"shape":"triangle-up"},"encoding":{"fill":{"field":"s","type":"nominal","scale":{"domain":["SuperLU_DIST(A100)","SuperLU_DIST(MI50)","PanguLU(A100)","PanguLU(MI50)"],"range":["#e41a1c","#e41a1c","#4682b4","#4682b4"]},"legend":{"title":null}}}},
  {"transform":[{"filter":{"field":"s","oneOf":["PanguLU(A100)","PanguLU(MI50)"]}}],"mark":{"type":"point","filled":true,"size":120,"opacity":1,"shape":"M0,-1L0.951,-0.309L0.588,0.809L-0.588,0.809L-0.951,-0.309Z"},"encoding":{"fill":{"field":"s","type":"nominal","scale":{"domain":["SuperLU_DIST(A100)","SuperLU_DIST(MI50)","PanguLU(A100)","PanguLU(MI50)"],"range":["#e41a1c","#e41a1c","#4682b4","#4682b4"]},"legend":{"title":null}}}},
  {"transform":[{"filter":{"field":"s","equal":"none"}}],"mark":{"type":"point","filled":true,"opacity":1},"encoding":{"shape":{"field":"s","type":"nominal","scale":{"domain":["SuperLU_DIST(A100)","SuperLU_DIST(MI50)","PanguLU(A100)","PanguLU(MI50)"],"range":["M-1,0L3,0M1,-0.643L1.714,0.643L0.286,0.643Z","M-1,0L3,0M1,-0.643L1.714,0.643L0.286,0.643Z","M-1,0L3,0M1,-0.757L1.72,-0.234L1.445,0.612L0.555,0.612L0.28,-0.234Z","M-1,0L3,0M1,-0.757L1.72,-0.234L1.445,0.612L0.555,0.612L0.28,-0.234Z"]},"legend":{"title":null}}}}
 ]},
{"transform":[{"filter":{"field":"m","equal":"audikw_1"}}],"width":282,"height":139,
 "encoding":{"x":{"field":"x","type":"ordinal","scale":{"padding":0.66},"axis":{"title":"audikw_1"}},
  "y":{"field":"y","type":"quantitative","scale":{"domain":[0,600],"nice":false},"axis":{"values":[0,100,200,300,400,500,600],"format":"d","title":null}}},
 "layer":[
  {"mark":{"type":"line","strokeWidth":2},"encoding":{"stroke":{"field":"s","type":"nominal","scale":{"domain":["SuperLU_DIST(A100)","SuperLU_DIST(MI50)","PanguLU(A100)","PanguLU(MI50)"],"range":["#e41a1c","#e41a1c","#4682b4","#4682b4"]},"legend":null},"strokeDash":{"field":"s","type":"nominal","scale":{"domain":["SuperLU_DIST(A100)","SuperLU_DIST(MI50)","PanguLU(A100)","PanguLU(MI50)"],"range":[[1,0],[7,3],[1,0],[7,3]]},"legend":null}}},
  {"transform":[{"filter":{"field":"s","oneOf":["SuperLU_DIST(A100)","SuperLU_DIST(MI50)"]}}],"mark":{"type":"point","filled":true,"size":120,"opacity":1,"shape":"triangle-up"},"encoding":{"fill":{"field":"s","type":"nominal","scale":{"domain":["SuperLU_DIST(A100)","SuperLU_DIST(MI50)","PanguLU(A100)","PanguLU(MI50)"],"range":["#e41a1c","#e41a1c","#4682b4","#4682b4"]},"legend":null}}},
  {"transform":[{"filter":{"field":"s","oneOf":["PanguLU(A100)","PanguLU(MI50)"]}}],"mark":{"type":"point","filled":true,"size":120,"opacity":1,"shape":"M0,-1L0.951,-0.309L0.588,0.809L-0.588,0.809L-0.951,-0.309Z"},"encoding":{"fill":{"field":"s","type":"nominal","scale":{"domain":["SuperLU_DIST(A100)","SuperLU_DIST(MI50)","PanguLU(A100)","PanguLU(MI50)"],"range":["#e41a1c","#e41a1c","#4682b4","#4682b4"]},"legend":null}}}
 ]},
{"transform":[{"filter":{"field":"m","equal":"cage12"}}],"width":282,"height":139,
 "encoding":{"x":{"field":"x","type":"ordinal","scale":{"padding":0.66},"axis":{"title":"cage12"}},
  "y":{"field":"y","type":"quantitative","scale":{"domain":[0,1400],"nice":false},"axis":{"values":[0,200,400,600,800,1000,1200,1400],"format":"d","title":null}}},
 "layer":[
  {"mark":{"type":"line","strokeWidth":2},"encoding":{"stroke":{"field":"s","type":"nominal","scale":{"domain":["SuperLU_DIST(A100)","SuperLU_DIST(MI50)","PanguLU(A100)","PanguLU(MI50)"],"range":["#e41a1c","#e41a1c","#4682b4","#4682b4"]},"legend":null},"strokeDash":{"field":"s","type":"nominal","scale":{"domain":["SuperLU_DIST(A100)","SuperLU_DIST(MI50)","PanguLU(A100)","PanguLU(MI50)"],"range":[[1,0],[7,3],[1,0],[7,3]]},"legend":null}}},
  {"transform":[{"filter":{"field":"s","oneOf":["SuperLU_DIST(A100)","SuperLU_DIST(MI50)"]}}],"mark":{"type":"point","filled":true,"size":120,"opacity":1,"shape":"triangle-up"},"encoding":{"fill":{"field":"s","type":"nominal","scale":{"domain":["SuperLU_DIST(A100)","SuperLU_DIST(MI50)","PanguLU(A100)","PanguLU(MI50)"],"range":["#e41a1c","#e41a1c","#4682b4","#4682b4"]},"legend":null}}},
  {"transform":[{"filter":{"field":"s","oneOf":["PanguLU(A100)","PanguLU(MI50)"]}}],"mark":{"type":"point","filled":true,"size":120,"opacity":1,"shape":"M0,-1L0.951,-0.309L0.588,0.809L-0.588,0.809L-0.951,-0.309Z"},"encoding":{"fill":{"field":"s","type":"nominal","scale":{"domain":["SuperLU_DIST(A100)","SuperLU_DIST(MI50)","PanguLU(A100)","PanguLU(MI50)"],"range":["#e41a1c","#e41a1c","#4682b4","#4682b4"]},"legend":null}}}
 ]},
{"transform":[{"filter":{"field":"m","equal":"CoupCons3D"}}],"width":282,"height":139,
 "encoding":{"x":{"field":"x","type":"ordinal","scale":{"padding":0.66},"axis":{"title":"CoupCons3D"}},
  "y":{"field":"y","type":"quantitative","scale":{"domain":[0,250],"nice":false},"axis":{"values":[0,50,100,150,200,250],"format":"d","title":"GFlops"}}},
 "layer":[
  {"mark":{"type":"line","strokeWidth":2},"encoding":{"stroke":{"field":"s","type":"nominal","scale":{"domain":["SuperLU_DIST(A100)","SuperLU_DIST(MI50)","PanguLU(A100)","PanguLU(MI50)"],"range":["#e41a1c","#e41a1c","#4682b4","#4682b4"]},"legend":null},"strokeDash":{"field":"s","type":"nominal","scale":{"domain":["SuperLU_DIST(A100)","SuperLU_DIST(MI50)","PanguLU(A100)","PanguLU(MI50)"],"range":[[1,0],[7,3],[1,0],[7,3]]},"legend":null}}},
  {"transform":[{"filter":{"field":"s","oneOf":["SuperLU_DIST(A100)","SuperLU_DIST(MI50)"]}}],"mark":{"type":"point","filled":true,"size":120,"opacity":1,"shape":"triangle-up"},"encoding":{"fill":{"field":"s","type":"nominal","scale":{"domain":["SuperLU_DIST(A100)","SuperLU_DIST(MI50)","PanguLU(A100)","PanguLU(MI50)"],"range":["#e41a1c","#e41a1c","#4682b4","#4682b4"]},"legend":null}}},
  {"transform":[{"filter":{"field":"s","oneOf":["PanguLU(A100)","PanguLU(MI50)"]}}],"mark":{"type":"point","filled":true,"size":120,"opacity":1,"shape":"M0,-1L0.951,-0.309L0.588,0.809L-0.588,0.809L-0.951,-0.309Z"},"encoding":{"fill":{"field":"s","type":"nominal","scale":{"domain":["SuperLU_DIST(A100)","SuperLU_DIST(MI50)","PanguLU(A100)","PanguLU(MI50)"],"range":["#e41a1c","#e41a1c","#4682b4","#4682b4"]},"legend":null}}}
 ]},
{"transform":[{"filter":{"field":"m","equal":"dielFilterV3real"}}],"width":282,"height":139,
 "encoding":{"x":{"field":"x","type":"ordinal","scale":{"padding":0.66},"axis":{"title":"dielFilterV3real"}},
  "y":{"field":"y","type":"quantitative","scale":{"domain":[0,200],"nice":false},"axis":{"values":[0,25,50,75,100,125,150,175,200],"format":"d","title":null}}},
 "layer":[
  {"mark":{"type":"line","strokeWidth":2},"encoding":{"stroke":{"field":"s","type":"nominal","scale":{"domain":["SuperLU_DIST(A100)","SuperLU_DIST(MI50)","PanguLU(A100)","PanguLU(MI50)"],"range":["#e41a1c","#e41a1c","#4682b4","#4682b4"]},"legend":null},"strokeDash":{"field":"s","type":"nominal","scale":{"domain":["SuperLU_DIST(A100)","SuperLU_DIST(MI50)","PanguLU(A100)","PanguLU(MI50)"],"range":[[1,0],[7,3],[1,0],[7,3]]},"legend":null}}},
  {"transform":[{"filter":{"field":"s","oneOf":["SuperLU_DIST(A100)","SuperLU_DIST(MI50)"]}}],"mark":{"type":"point","filled":true,"size":120,"opacity":1,"shape":"triangle-up"},"encoding":{"fill":{"field":"s","type":"nominal","scale":{"domain":["SuperLU_DIST(A100)","SuperLU_DIST(MI50)","PanguLU(A100)","PanguLU(MI50)"],"range":["#e41a1c","#e41a1c","#4682b4","#4682b4"]},"legend":null}}},
  {"transform":[{"filter":{"field":"s","oneOf":["PanguLU(A100)","PanguLU(MI50)"]}}],"mark":{"type":"point","filled":true,"size":120,"opacity":1,"shape":"M0,-1L0.951,-0.309L0.588,0.809L-0.588,0.809L-0.951,-0.309Z"},"encoding":{"fill":{"field":"s","type":"nominal","scale":{"domain":["SuperLU_DIST(A100)","SuperLU_DIST(MI50)","PanguLU(A100)","PanguLU(MI50)"],"range":["#e41a1c","#e41a1c","#4682b4","#4682b4"]},"legend":null}}}
 ]},
{"transform":[{"filter":{"field":"m","equal":"ecology1"}}],"width":282,"height":139,
 "encoding":{"x":{"field":"x","type":"ordinal","scale":{"padding":0.66},"axis":{"title":"ecology1"}},
  "y":{"field":"y","type":"quantitative","scale":{"domain":[0,30],"nice":false},"axis":{"values":[0,5,10,15,20,25,30],"format":"d","title":null}}},
 "layer":[
  {"mark":{"type":"line","strokeWidth":2},"encoding":{"stroke":{"field":"s","type":"nominal","scale":{"domain":["SuperLU_DIST(A100)","SuperLU_DIST(MI50)","PanguLU(A100)","PanguLU(MI50)"],"range":["#e41a1c","#e41a1c","#4682b4","#4682b4"]},"legend":null},"strokeDash":{"field":"s","type":"nominal","scale":{"domain":["SuperLU_DIST(A100)","SuperLU_DIST(MI50)","PanguLU(A100)","PanguLU(MI50)"],"range":[[1,0],[7,3],[1,0],[7,3]]},"legend":null}}},
  {"transform":[{"filter":{"field":"s","oneOf":["SuperLU_DIST(A100)","SuperLU_DIST(MI50)"]}}],"mark":{"type":"point","filled":true,"size":120,"opacity":1,"shape":"triangle-up"},"encoding":{"fill":{"field":"s","type":"nominal","scale":{"domain":["SuperLU_DIST(A100)","SuperLU_DIST(MI50)","PanguLU(A100)","PanguLU(MI50)"],"range":["#e41a1c","#e41a1c","#4682b4","#4682b4"]},"legend":null}}},
  {"transform":[{"filter":{"field":"s","oneOf":["PanguLU(A100)","PanguLU(MI50)"]}}],"mark":{"type":"point","filled":true,"size":120,"opacity":1,"shape":"M0,-1L0.951,-0.309L0.588,0.809L-0.588,0.809L-0.951,-0.309Z"},"encoding":{"fill":{"field":"s","type":"nominal","scale":{"domain":["SuperLU_DIST(A100)","SuperLU_DIST(MI50)","PanguLU(A100)","PanguLU(MI50)"],"range":["#e41a1c","#e41a1c","#4682b4","#4682b4"]},"legend":null}}}
 ]},
{"transform":[{"filter":{"field":"m","equal":"G3_circuit"}}],"width":282,"height":139,
 "encoding":{"x":{"field":"x","type":"ordinal","scale":{"padding":0.66},"axis":{"title":"G3_circuit"}},
  "y":{"field":"y","type":"quantitative","scale":{"domain":[0,35],"nice":false},"axis":{"values":[0,5,10,15,20,25,30,35],"format":"d","title":null}}},
 "layer":[
  {"mark":{"type":"line","strokeWidth":2},"encoding":{"stroke":{"field":"s","type":"nominal","scale":{"domain":["SuperLU_DIST(A100)","SuperLU_DIST(MI50)","PanguLU(A100)","PanguLU(MI50)"],"range":["#e41a1c","#e41a1c","#4682b4","#4682b4"]},"legend":null},"strokeDash":{"field":"s","type":"nominal","scale":{"domain":["SuperLU_DIST(A100)","SuperLU_DIST(MI50)","PanguLU(A100)","PanguLU(MI50)"],"range":[[1,0],[7,3],[1,0],[7,3]]},"legend":null}}},
  {"transform":[{"filter":{"field":"s","oneOf":["SuperLU_DIST(A100)","SuperLU_DIST(MI50)"]}}],"mark":{"type":"point","filled":true,"size":120,"opacity":1,"shape":"triangle-up"},"encoding":{"fill":{"field":"s","type":"nominal","scale":{"domain":["SuperLU_DIST(A100)","SuperLU_DIST(MI50)","PanguLU(A100)","PanguLU(MI50)"],"range":["#e41a1c","#e41a1c","#4682b4","#4682b4"]},"legend":null}}},
  {"transform":[{"filter":{"field":"s","oneOf":["PanguLU(A100)","PanguLU(MI50)"]}}],"mark":{"type":"point","filled":true,"size":120,"opacity":1,"shape":"M0,-1L0.951,-0.309L0.588,0.809L-0.588,0.809L-0.951,-0.309Z"},"encoding":{"fill":{"field":"s","type":"nominal","scale":{"domain":["SuperLU_DIST(A100)","SuperLU_DIST(MI50)","PanguLU(A100)","PanguLU(MI50)"],"range":["#e41a1c","#e41a1c","#4682b4","#4682b4"]},"legend":null}}}
 ]},
{"transform":[{"filter":{"field":"m","equal":"Ga41As41H72"}}],"width":282,"height":139,
 "encoding":{"x":{"field":"x","type":"ordinal","scale":{"padding":0.66},"axis":{"title":"Ga41As41H72"}},
  "y":{"field":"y","type":"quantitative","scale":{"domain":[0,3000],"nice":false},"axis":{"values":[0,500,1000,1500,2000,2500,3000],"format":"d","title":"GFlops"}}},
 "layer":[
  {"mark":{"type":"line","strokeWidth":2},"encoding":{"stroke":{"field":"s","type":"nominal","scale":{"domain":["SuperLU_DIST(A100)","SuperLU_DIST(MI50)","PanguLU(A100)","PanguLU(MI50)"],"range":["#e41a1c","#e41a1c","#4682b4","#4682b4"]},"legend":null},"strokeDash":{"field":"s","type":"nominal","scale":{"domain":["SuperLU_DIST(A100)","SuperLU_DIST(MI50)","PanguLU(A100)","PanguLU(MI50)"],"range":[[1,0],[7,3],[1,0],[7,3]]},"legend":null}}},
  {"transform":[{"filter":{"field":"s","oneOf":["SuperLU_DIST(A100)","SuperLU_DIST(MI50)"]}}],"mark":{"type":"point","filled":true,"size":120,"opacity":1,"shape":"triangle-up"},"encoding":{"fill":{"field":"s","type":"nominal","scale":{"domain":["SuperLU_DIST(A100)","SuperLU_DIST(MI50)","PanguLU(A100)","PanguLU(MI50)"],"range":["#e41a1c","#e41a1c","#4682b4","#4682b4"]},"legend":null}}},
  {"transform":[{"filter":{"field":"s","oneOf":["PanguLU(A100)","PanguLU(MI50)"]}}],"mark":{"type":"point","filled":true,"size":120,"opacity":1,"shape":"M0,-1L0.951,-0.309L0.588,0.809L-0.588,0.809L-0.951,-0.309Z"},"encoding":{"fill":{"field":"s","type":"nominal","scale":{"domain":["SuperLU_DIST(A100)","SuperLU_DIST(MI50)","PanguLU(A100)","PanguLU(MI50)"],"range":["#e41a1c","#e41a1c","#4682b4","#4682b4"]},"legend":null}}}
 ]},
{"transform":[{"filter":{"field":"m","equal":"Hook_1498"}}],"width":282,"height":139,
 "encoding":{"x":{"field":"x","type":"ordinal","scale":{"padding":0.66},"axis":{"title":"Hook_1498"}},
  "y":{"field":"y","type":"quantitative","scale":{"domain":[0,600],"nice":false},"axis":{"values":[0,100,200,300,400,500,600],"format":"d","title":null}}},
 "layer":[
  {"mark":{"type":"line","strokeWidth":2},"encoding":{"stroke":{"field":"s","type":"nominal","scale":{"domain":["SuperLU_DIST(A100)","SuperLU_DIST(MI50)","PanguLU(A100)","PanguLU(MI50)"],"range":["#e41a1c","#e41a1c","#4682b4","#4682b4"]},"legend":null},"strokeDash":{"field":"s","type":"nominal","scale":{"domain":["SuperLU_DIST(A100)","SuperLU_DIST(MI50)","PanguLU(A100)","PanguLU(MI50)"],"range":[[1,0],[7,3],[1,0],[7,3]]},"legend":null}}},
  {"transform":[{"filter":{"field":"s","oneOf":["SuperLU_DIST(A100)","SuperLU_DIST(MI50)"]}}],"mark":{"type":"point","filled":true,"size":120,"opacity":1,"shape":"triangle-up"},"encoding":{"fill":{"field":"s","type":"nominal","scale":{"domain":["SuperLU_DIST(A100)","SuperLU_DIST(MI50)","PanguLU(A100)","PanguLU(MI50)"],"range":["#e41a1c","#e41a1c","#4682b4","#4682b4"]},"legend":null}}},
  {"transform":[{"filter":{"field":"s","oneOf":["PanguLU(A100)","PanguLU(MI50)"]}}],"mark":{"type":"point","filled":true,"size":120,"opacity":1,"shape":"M0,-1L0.951,-0.309L0.588,0.809L-0.588,0.809L-0.951,-0.309Z"},"encoding":{"fill":{"field":"s","type":"nominal","scale":{"domain":["SuperLU_DIST(A100)","SuperLU_DIST(MI50)","PanguLU(A100)","PanguLU(MI50)"],"range":["#e41a1c","#e41a1c","#4682b4","#4682b4"]},"legend":null}}}
 ]},
{"transform":[{"filter":{"field":"m","equal":"inline_1"}}],"width":282,"height":139,
 "encoding":{"x":{"field":"x","type":"ordinal","scale":{"padding":0.66},"axis":{"title":"inline_1"}},
  "y":{"field":"y","type":"quantitative","scale":{"domain":[0,70],"nice":false},"axis":{"values":[0,10,20,30,40,50,60,70],"format":"d","title":null}}},
 "layer":[
  {"mark":{"type":"line","strokeWidth":2},"encoding":{"stroke":{"field":"s","type":"nominal","scale":{"domain":["SuperLU_DIST(A100)","SuperLU_DIST(MI50)","PanguLU(A100)","PanguLU(MI50)"],"range":["#e41a1c","#e41a1c","#4682b4","#4682b4"]},"legend":null},"strokeDash":{"field":"s","type":"nominal","scale":{"domain":["SuperLU_DIST(A100)","SuperLU_DIST(MI50)","PanguLU(A100)","PanguLU(MI50)"],"range":[[1,0],[7,3],[1,0],[7,3]]},"legend":null}}},
  {"transform":[{"filter":{"field":"s","oneOf":["SuperLU_DIST(A100)","SuperLU_DIST(MI50)"]}}],"mark":{"type":"point","filled":true,"size":120,"opacity":1,"shape":"triangle-up"},"encoding":{"fill":{"field":"s","type":"nominal","scale":{"domain":["SuperLU_DIST(A100)","SuperLU_DIST(MI50)","PanguLU(A100)","PanguLU(MI50)"],"range":["#e41a1c","#e41a1c","#4682b4","#4682b4"]},"legend":null}}},
  {"transform":[{"filter":{"field":"s","oneOf":["PanguLU(A100)","PanguLU(MI50)"]}}],"mark":{"type":"point","filled":true,"size":120,"opacity":1,"shape":"M0,-1L0.951,-0.309L0.588,0.809L-0.588,0.809L-0.951,-0.309Z"},"encoding":{"fill":{"field":"s","type":"nominal","scale":{"domain":["SuperLU_DIST(A100)","SuperLU_DIST(MI50)","PanguLU(A100)","PanguLU(MI50)"],"range":["#e41a1c","#e41a1c","#4682b4","#4682b4"]},"legend":null}}}
 ]},
{"transform":[{"filter":{"field":"m","equal":"ldoor"}}],"width":282,"height":139,
 "encoding":{"x":{"field":"x","type":"ordinal","scale":{"padding":0.66},"axis":{"title":"ldoor"}},
  "y":{"field":"y","type":"quantitative","scale":{"domain":[0,50],"nice":false},"axis":{"values":[0,10,20,30,40,50],"format":"d","title":null}}},
 "layer":[
  {"mark":{"type":"line","strokeWidth":2},"encoding":{"stroke":{"field":"s","type":"nominal","scale":{"domain":["SuperLU_DIST(A100)","SuperLU_DIST(MI50)","PanguLU(A100)","PanguLU(MI50)"],"range":["#e41a1c","#e41a1c","#4682b4","#4682b4"]},"legend":null},"strokeDash":{"field":"s","type":"nominal","scale":{"domain":["SuperLU_DIST(A100)","SuperLU_DIST(MI50)","PanguLU(A100)","PanguLU(MI50)"],"range":[[1,0],[7,3],[1,0],[7,3]]},"legend":null}}},
  {"transform":[{"filter":{"field":"s","oneOf":["SuperLU_DIST(A100)","SuperLU_DIST(MI50)"]}}],"mark":{"type":"point","filled":true,"size":120,"opacity":1,"shape":"triangle-up"},"encoding":{"fill":{"field":"s","type":"nominal","scale":{"domain":["SuperLU_DIST(A100)","SuperLU_DIST(MI50)","PanguLU(A100)","PanguLU(MI50)"],"range":["#e41a1c","#e41a1c","#4682b4","#4682b4"]},"legend":null}}},
  {"transform":[{"filter":{"field":"s","oneOf":["PanguLU(A100)","PanguLU(MI50)"]}}],"mark":{"type":"point","filled":true,"size":120,"opacity":1,"shape":"M0,-1L0.951,-0.309L0.588,0.809L-0.588,0.809L-0.951,-0.309Z"},"encoding":{"fill":{"field":"s","type":"nominal","scale":{"domain":["SuperLU_DIST(A100)","SuperLU_DIST(MI50)","PanguLU(A100)","PanguLU(MI50)"],"range":["#e41a1c","#e41a1c","#4682b4","#4682b4"]},"legend":null}}}
 ]},
{"transform":[{"filter":{"field":"m","equal":"nlpkkt80"}}],"width":282,"height":139,
 "encoding":{"x":{"field":"x","type":"ordinal","scale":{"padding":0.66},"axis":{"title":"nlpkkt80"}},
  "y":{"field":"y","type":"quantitative","scale":{"domain":[0,1400],"nice":false},"axis":{"values":[0,200,400,600,800,1000,1200,1400],"format":"d","title":"GFlops"}}},
 "layer":[
  {"mark":{"type":"line","strokeWidth":2},"encoding":{"stroke":{"field":"s","type":"nominal","scale":{"domain":["SuperLU_DIST(A100)","SuperLU_DIST(MI50)","PanguLU(A100)","PanguLU(MI50)"],"range":["#e41a1c","#e41a1c","#4682b4","#4682b4"]},"legend":null},"strokeDash":{"field":"s","type":"nominal","scale":{"domain":["SuperLU_DIST(A100)","SuperLU_DIST(MI50)","PanguLU(A100)","PanguLU(MI50)"],"range":[[1,0],[7,3],[1,0],[7,3]]},"legend":null}}},
  {"transform":[{"filter":{"field":"s","oneOf":["SuperLU_DIST(A100)","SuperLU_DIST(MI50)"]}}],"mark":{"type":"point","filled":true,"size":120,"opacity":1,"shape":"triangle-up"},"encoding":{"fill":{"field":"s","type":"nominal","scale":{"domain":["SuperLU_DIST(A100)","SuperLU_DIST(MI50)","PanguLU(A100)","PanguLU(MI50)"],"range":["#e41a1c","#e41a1c","#4682b4","#4682b4"]},"legend":null}}},
  {"transform":[{"filter":{"field":"s","oneOf":["PanguLU(A100)","PanguLU(MI50)"]}}],"mark":{"type":"point","filled":true,"size":120,"opacity":1,"shape":"M0,-1L0.951,-0.309L0.588,0.809L-0.588,0.809L-0.951,-0.309Z"},"encoding":{"fill":{"field":"s","type":"nominal","scale":{"domain":["SuperLU_DIST(A100)","SuperLU_DIST(MI50)","PanguLU(A100)","PanguLU(MI50)"],"range":["#e41a1c","#e41a1c","#4682b4","#4682b4"]},"legend":null}}}
 ]},
{"transform":[{"filter":{"field":"m","equal":"Serena"}}],"width":282,"height":139,
 "encoding":{"x":{"field":"x","type":"ordinal","scale":{"padding":0.66},"axis":{"title":"Serena"}},
  "y":{"field":"y","type":"quantitative","scale":{"domain":[0,1600],"nice":false},"axis":{"values":[0,200,400,600,800,1000,1200,1400,1600],"format":"d","title":null}}},
 "layer":[
  {"mark":{"type":"line","strokeWidth":2},"encoding":{"stroke":{"field":"s","type":"nominal","scale":{"domain":["SuperLU_DIST(A100)","SuperLU_DIST(MI50)","PanguLU(A100)","PanguLU(MI50)"],"range":["#e41a1c","#e41a1c","#4682b4","#4682b4"]},"legend":null},"strokeDash":{"field":"s","type":"nominal","scale":{"domain":["SuperLU_DIST(A100)","SuperLU_DIST(MI50)","PanguLU(A100)","PanguLU(MI50)"],"range":[[1,0],[7,3],[1,0],[7,3]]},"legend":null}}},
  {"transform":[{"filter":{"field":"s","oneOf":["SuperLU_DIST(A100)","SuperLU_DIST(MI50)"]}}],"mark":{"type":"point","filled":true,"size":120,"opacity":1,"shape":"triangle-up"},"encoding":{"fill":{"field":"s","type":"nominal","scale":{"domain":["SuperLU_DIST(A100)","SuperLU_DIST(MI50)","PanguLU(A100)","PanguLU(MI50)"],"range":["#e41a1c","#e41a1c","#4682b4","#4682b4"]},"legend":null}}},
  {"transform":[{"filter":{"field":"s","oneOf":["PanguLU(A100)","PanguLU(MI50)"]}}],"mark":{"type":"point","filled":true,"size":120,"opacity":1,"shape":"M0,-1L0.951,-0.309L0.588,0.809L-0.588,0.809L-0.951,-0.309Z"},"encoding":{"fill":{"field":"s","type":"nominal","scale":{"domain":["SuperLU_DIST(A100)","SuperLU_DIST(MI50)","PanguLU(A100)","PanguLU(MI50)"],"range":["#e41a1c","#e41a1c","#4682b4","#4682b4"]},"legend":null}}}
 ]},
{"transform":[{"filter":{"field":"m","equal":"Si87H76"}}],"width":282,"height":139,
 "encoding":{"x":{"field":"x","type":"ordinal","scale":{"padding":0.66},"axis":{"title":"Si87H76"}},
  "y":{"field":"y","type":"quantitative","scale":{"domain":[0,3000],"nice":false},"axis":{"values":[0,500,1000,1500,2000,2500,3000],"format":"d","title":null}}},
 "layer":[
  {"mark":{"type":"line","strokeWidth":2},"encoding":{"stroke":{"field":"s","type":"nominal","scale":{"domain":["SuperLU_DIST(A100)","SuperLU_DIST(MI50)","PanguLU(A100)","PanguLU(MI50)"],"range":["#e41a1c","#e41a1c","#4682b4","#4682b4"]},"legend":null},"strokeDash":{"field":"s","type":"nominal","scale":{"domain":["SuperLU_DIST(A100)","SuperLU_DIST(MI50)","PanguLU(A100)","PanguLU(MI50)"],"range":[[1,0],[7,3],[1,0],[7,3]]},"legend":null}}},
  {"transform":[{"filter":{"field":"s","oneOf":["SuperLU_DIST(A100)","SuperLU_DIST(MI50)"]}}],"mark":{"type":"point","filled":true,"size":120,"opacity":1,"shape":"triangle-up"},"encoding":{"fill":{"field":"s","type":"nominal","scale":{"domain":["SuperLU_DIST(A100)","SuperLU_DIST(MI50)","PanguLU(A100)","PanguLU(MI50)"],"range":["#e41a1c","#e41a1c","#4682b4","#4682b4"]},"legend":null}}},
  {"transform":[{"filter":{"field":"s","oneOf":["PanguLU(A100)","PanguLU(MI50)"]}}],"mark":{"type":"point","filled":true,"size":120,"opacity":1,"shape":"M0,-1L0.951,-0.309L0.588,0.809L-0.588,0.809L-0.951,-0.309Z"},"encoding":{"fill":{"field":"s","type":"nominal","scale":{"domain":["SuperLU_DIST(A100)","SuperLU_DIST(MI50)","PanguLU(A100)","PanguLU(MI50)"],"range":["#e41a1c","#e41a1c","#4682b4","#4682b4"]},"legend":null}}}
 ]},
{"transform":[{"filter":{"field":"m","equal":"SiO2"}}],"width":282,"height":139,
 "encoding":{"x":{"field":"x","type":"ordinal","scale":{"padding":0.66},"axis":{"title":"SiO2"}},
  "y":{"field":"y","type":"quantitative","scale":{"domain":[0,2500],"nice":false},"axis":{"values":[0,500,1000,1500,2000,2500],"format":"d","title":null}}},
 "layer":[
  {"mark":{"type":"line","strokeWidth":2},"encoding":{"stroke":{"field":"s","type":"nominal","scale":{"domain":["SuperLU_DIST(A100)","SuperLU_DIST(MI50)","PanguLU(A100)","PanguLU(MI50)"],"range":["#e41a1c","#e41a1c","#4682b4","#4682b4"]},"legend":null},"strokeDash":{"field":"s","type":"nominal","scale":{"domain":["SuperLU_DIST(A100)","SuperLU_DIST(MI50)","PanguLU(A100)","PanguLU(MI50)"],"range":[[1,0],[7,3],[1,0],[7,3]]},"legend":null}}},
  {"transform":[{"filter":{"field":"s","oneOf":["SuperLU_DIST(A100)","SuperLU_DIST(MI50)"]}}],"mark":{"type":"point","filled":true,"size":120,"opacity":1,"shape":"triangle-up"},"encoding":{"fill":{"field":"s","type":"nominal","scale":{"domain":["SuperLU_DIST(A100)","SuperLU_DIST(MI50)","PanguLU(A100)","PanguLU(MI50)"],"range":["#e41a1c","#e41a1c","#4682b4","#4682b4"]},"legend":null}}},
  {"transform":[{"filter":{"field":"s","oneOf":["PanguLU(A100)","PanguLU(MI50)"]}}],"mark":{"type":"point","filled":true,"size":120,"opacity":1,"shape":"M0,-1L0.951,-0.309L0.588,0.809L-0.588,0.809L-0.951,-0.309Z"},"encoding":{"fill":{"field":"s","type":"nominal","scale":{"domain":["SuperLU_DIST(A100)","SuperLU_DIST(MI50)","PanguLU(A100)","PanguLU(MI50)"],"range":["#e41a1c","#e41a1c","#4682b4","#4682b4"]},"legend":null}}}
 ]}
],
"config":{
 "font":"DejaVu Sans",
 "view":{"stroke":"black","strokeWidth":1.2},
 "axis":{"labelFont":"DejaVu Sans","labelFontSize":15,"labelColor":"black","labelFlush":false,"labelOverlap":false,"labelBound":false,"labelPadding":2,
  "titleFont":"DejaVu Sans","titleFontSize":26,"titleFontWeight":"normal","titleColor":"black",
  "grid":true,"gridColor":"#b0b0b0","gridOpacity":1,"gridWidth":1,
  "domainColor":"black","domainWidth":1.2,"tickColor":"black","tickSize":4,"tickWidth":1},
 "axisX":{"labelAngle":0,"titlePadding":2},
 "axisY":{"titleX":-53,"titleBaseline":"bottom"},
 "legend":{"orient":"top-left","offset":1,"labelFont":"DejaVu Sans","labelFontSize":13,"labelColor":"black","symbolSize":196,"symbolStrokeWidth":2,"symbolOpacity":1,"rowPadding":3,"labelOffset":24,"padding":5,"fillColor":"rgba(255,255,255,0.85)","strokeColor":"#cccccc","cornerRadius":3,"labelLimit":300}
}
}
